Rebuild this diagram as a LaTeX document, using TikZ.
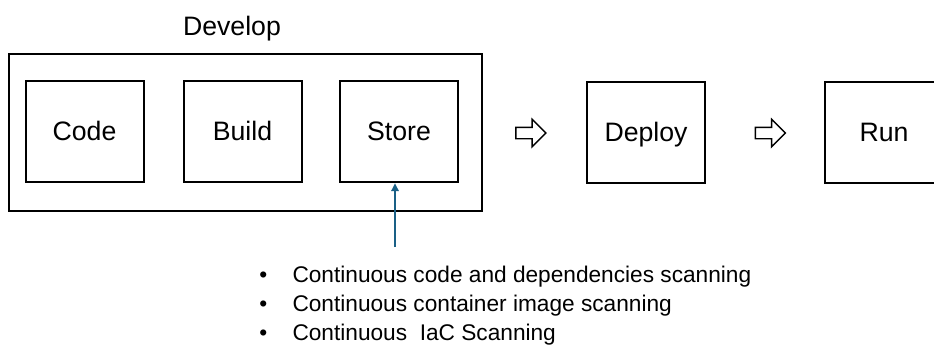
\documentclass[tikz,border=0pt]{standalone}
\usepackage{fontspec}
\setmainfont{Liberation Sans}
\usetikzlibrary{arrows.meta,shapes.arrows}

\begin{document}
\begin{tikzpicture}[x=0.75pt,y=0.75pt,yscale=-1,xscale=1,
  stagebox/.style={draw,line width=1.5pt,inner sep=0pt,minimum width=88.5pt,minimum height=76pt,text height=12.8pt,text depth=0pt,font=\fontsize{20}{24}\selectfont},
  flowarrow/.style={draw,line width=1.1pt,single arrow,single arrow head extend=6pt,single arrow head indent=0pt,inner sep=3.75pt,minimum height=22.5pt,shape border rotate=0}]
\useasboundingbox (0,0) rectangle (934,344);

%Shape: Rectangle [id:develop]
\node [draw,line width=1.5pt,inner sep=0pt,minimum width=354.75pt,minimum height=117.75pt] (develop) at (245.5,132.5) {};
% Text Node
\node [font=\fontsize{20}{24}\selectfont,inner sep=0.75pt] (developlabel) at (232,29) {Develop};

%Shape: Rectangle [id:code]
\node [stagebox] (code) at (84.5,131.5) {Code};
%Shape: Rectangle [id:build]
\node [stagebox] (build) at (242.5,131.5) {Build};
%Shape: Rectangle [id:store]
\node [stagebox] (store) at (399,131.5) {Store};
%Shape: Rectangle [id:deploy]
\node [stagebox] (deploy) at (646,132.5) {Deploy};
%Shape: Rectangle [id:run]
\node [stagebox] (run) at (884,132.5) {Run};

%Shape: Right Arrow [id:arrowone]
\node [flowarrow] (arrowone) at (528,133) {};
%Shape: Right Arrow [id:arrowtwo]
\node [flowarrow] (arrowtwo) at (767.5,133) {};

%Straight Lines [id:scanline]
\coordinate (scanfoot) at (395,247);
\draw [color={rgb, 255:red, 26; green, 96; blue, 134 },line width=1.5pt,-{Triangle[length=6pt,width=5.5pt]}] (scanfoot) -- (scanfoot |- store.south);

% Text Node
\node [anchor=north west,inner sep=0pt,font=\fontsize{17}{21.75}\selectfont] (scans) at (259,262) {%
  \begin{tabular}{@{}l@{\hspace{19pt}}l@{}}
  \textbullet & Continuous code and dependencies scanning\\
  \textbullet & Continuous container image scanning\\
  \textbullet & Continuous\ \ IaC Scanning
  \end{tabular}};

\end{tikzpicture}
\end{document}
